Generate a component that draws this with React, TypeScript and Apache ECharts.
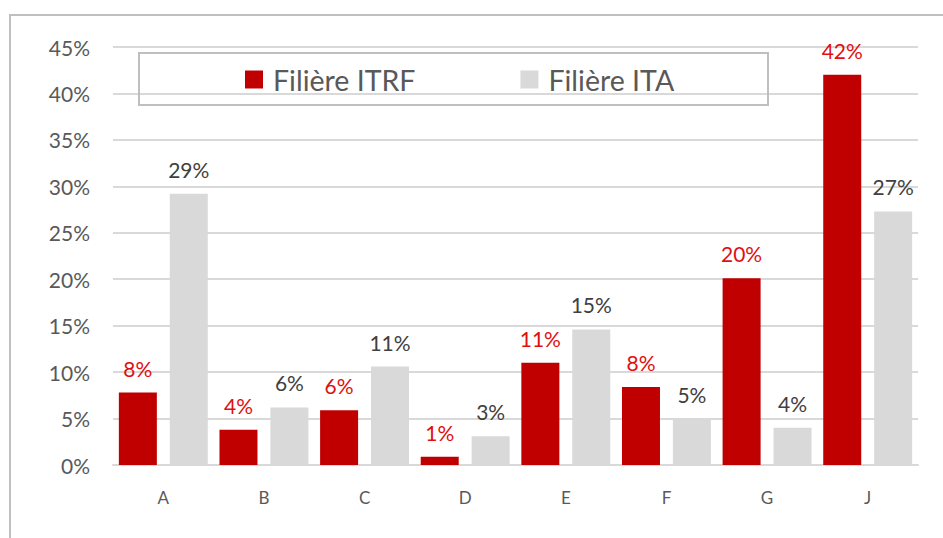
import React, { useEffect, useRef } from "react";
import * as echarts from "echarts";

const categories = ["A", "B", "C", "D", "E", "F", "G", "J"];
const itrf = [7.8, 3.8, 5.9, 0.9, 11.0, 8.4, 20.1, 42.0];
const ita = [29.2, 6.2, 10.6, 3.1, 14.6, 5.0, 4.0, 27.3];
const seriesNames = ["Filière ITRF", "Filière ITA"];

const FONT = "Lato, 'Noto Sans', sans-serif";

export default function App() {
  const ref = useRef<HTMLDivElement>(null);
  useEffect(() => {
    if (!ref.current) return;
    const chart = echarts.init(ref.current, undefined, { renderer: "svg" });
    chart.setOption({
      animation: false,
      backgroundColor: "#ffffff",
      textStyle: { fontFamily: FONT },
      grid: { left: 113, right: 25, top: 47, bottom: 73 },
      graphic: [
        {
          type: "rect",
          shape: { x: 10, y: 15, width: 945, height: 540 },
          style: { fill: "none", stroke: "#bfbfbf", lineWidth: 2 },
          silent: true,
        },
        {
          type: "rect",
          shape: { x: 139, y: 53, width: 629, height: 52 },
          style: { fill: "none", stroke: "#bfbfbf", lineWidth: 2 },
          silent: true,
          z: 10,
        },
      ],
      legend: {
        left: 240,
        top: 60,
        icon: "rect",
        itemWidth: 18,
        itemHeight: 18,
        itemGap: 105,
        data: seriesNames,
        textStyle: {
          fontSize: 28.5,
          color: "#595959",
          fontFamily: FONT,
          padding: [0, 0, 0, 5],
        },
      },
      xAxis: {
        type: "category",
        data: categories,
        axisLine: { lineStyle: { color: "#d9d9d9", width: 2 } },
        axisTick: { show: false },
        axisLabel: { fontSize: 17, color: "#595959", margin: 24, fontFamily: FONT },
      },
      yAxis: {
        type: "value",
        min: 0,
        max: 45,
        interval: 5,
        axisLabel: {
          formatter: "{value}%",
          fontSize: 21,
          color: "#595959",
          margin: 23,
          fontFamily: FONT,
        },
        axisLine: { show: false },
        axisTick: { show: false },
        splitLine: { lineStyle: { color: "#d9d9d9", width: 2 } },
      },
      series: [
        {
          name: seriesNames[0],
          type: "bar",
          data: itrf,
          barWidth: 38,
          barGap: "34%",
          itemStyle: { color: "#c00000" },
          label: {
            show: true,
            position: "top",
            distance: 14,
            formatter: (p: any) => Math.round(p.value) + "%",
            fontSize: 21,
            color: "#e01010",
            fontFamily: FONT,
          },
        },
        {
          name: seriesNames[1],
          type: "bar",
          data: ita,
          barWidth: 38,
          itemStyle: { color: "#d9d9d9" },
          label: {
            show: true,
            position: "top",
            distance: 14,
            formatter: (p: any) => Math.round(p.value) + "%",
            fontSize: 21,
            color: "#404040",
            fontFamily: FONT,
          },
        },
      ],
    });
    return () => chart.dispose();
  }, []);
  return (
    <div
      ref={ref}
      style={{ position: "fixed", left: 0, top: 0, width: 943, height: 538 }}
    />
  );
}
